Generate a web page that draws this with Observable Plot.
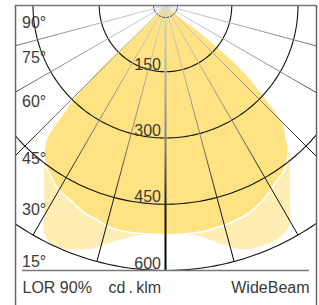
<!DOCTYPE html>
<html><head><meta charset="utf-8">
<script src="https://cdn.jsdelivr.net/npm/d3@7"></script>
<script src="https://cdn.jsdelivr.net/npm/@observablehq/plot@0.6"></script>
<style>
html,body{margin:0;padding:0;background:#fff;}
#chart svg{display:block;}
</style></head><body><div id="chart"></div>
<script>
// ---- data (angle from nadir in degrees, luminous intensity in cd/klm) ----
const darkLeftAngle  = [0, 5, 10, 14, 18, 21, 25, 30, 35, 38, 40, 42, 43.5, 45, 46, 46.5, 46.5, 46, 48, 60, 90];
const darkLeftCd     = [519, 519, 520, 518, 509, 505, 493, 482, 461, 445, 427, 400, 335, 285, 235, 180, 110, 55, 20, 8, 4];
const darkRightAngle = [0, 5, 9.5, 13, 17, 21, 26, 30, 32, 36, 41, 42, 45, 47, 50, 52, 52.5, 55, 60, 90];
const darkRightCd    = [519, 519, 519, 516, 513, 508, 495, 480, 472, 459, 424, 410, 376, 314, 229, 129, 40, 12, 6, 4];
const lightLeftAngle = [0, 6, 9.3, 13, 16.5, 19.8, 23.4, 25.8, 28.2, 29.2, 32, 36, 38, 40, 42, 43.5, 45, 46, 46.5, 46.5, 46, 48, 60, 90];
const lightLeftCd    = [519, 522, 533, 551, 573, 587, 598, 597, 584, 566, 519, 468, 445, 427, 400, 335, 285, 235, 180, 110, 55, 20, 8, 4];
const lightRightAngle = [0, 6.9, 10.8, 14.4, 17.7, 21.4, 25.5, 28.5, 30.2, 32.7, 37.1, 41, 42, 45, 47, 50, 52, 52.5, 55, 60, 90];
const lightRightCd    = [519, 523, 540, 563, 580, 586, 587, 577, 561, 522, 467, 424, 410, 376, 314, 229, 129, 40, 12, 6, 4];

const gridRadii = [150, 300, 450, 600];
const rayAngles = [-90, -75, -60, -45, -30, -15, 0, 15, 30, 45, 60, 75, 90];
const angleLabels = [90, 75, 60, 45, 30, 15];
const footerTexts = ["LOR 90%", "cd\u2009.\u2009klm", "WideBeam"];

// ---- layout ----
const W = 319, H = 305;
const k = 265 / 600;           // px per cd
const cx = 165, cy = 5;        // pixel position of the light centre
const mL = 15, mR = 3, mT = 5, mB = 35;
const xDomain = [(mL - cx) / k, (W - mR - cx) / k];
const yDomain = [0, (H - mB - mT) / k];
const angleLabelRow = [50, 131, 229, 358, 475, 593]; // label baselines (cd units down the frame)
const footerRow = 650;

const rad = a => a * Math.PI / 180;
function polar(angles, cds, sign) {
  return angles.map((a, i) => ({x: sign * cds[i] * Math.sin(rad(a)), y: cds[i] * Math.cos(rad(a))}));
}
function outline(la, lc, ra, rc) {
  return [...polar(la, lc, -1).reverse(), ...polar(ra, rc, 1).slice(1)];
}
const lightShape = outline(lightLeftAngle, lightLeftCd, lightRightAngle, lightRightCd);
const darkShape = outline(darkLeftAngle, darkLeftCd, darkRightAngle, darkRightCd);

const circlePts = gridRadii.flatMap(r => d3.range(-90, 90.5, 1).map(t => ({r, x: r * Math.sin(rad(t)), y: r * Math.cos(rad(t))})));
const srcR = 12 / k;
const srcPts = d3.range(-90, 90.5, 2).map(t => ({x: srcR * Math.sin(rad(t)), y: srcR * Math.cos(rad(t))}));
const rays = rayAngles.map(a => ({a, x2: 600 * Math.sin(rad(a)), y2: 600 * Math.cos(rad(a))}));

const font = "Liberation Sans, Arial, sans-serif";
const ink = "#3a3a3a";

const svg = Plot.plot({
  width: W, height: H,
  marginLeft: mL, marginRight: mR, marginTop: mT, marginBottom: mB,
  x: {domain: xDomain, axis: null},
  y: {domain: yDomain, reverse: true, axis: null},
  marks: [
    Plot.line(lightShape, {x: "x", y: "y", fill: "#FFEDB3", stroke: "none", curve: "catmull-rom", clip: true}),
    Plot.line(darkShape, {x: "x", y: "y", fill: "#FFE281", stroke: "#fff", strokeWidth: 1.6, curve: "catmull-rom", clip: true}),
    Plot.line(circlePts, {x: "x", y: "y", z: "r", stroke: "#111", strokeWidth: 1.1, clip: true}),
    Plot.link(rays, {x1: d => 0, y1: d => 0, x2: "x2", y2: "y2", stroke: "url(#rayGrad)", strokeWidth: d => d.a === 0 ? 2 : 1, clip: true}),
    Plot.line(srcPts, {x: "x", y: "y", stroke: "#222", strokeWidth: 1, strokeDasharray: "2,2"}),
    Plot.ruleX([xDomain[0], xDomain[1]], {y1: d => 0, y2: d => 720, stroke: "#666", strokeWidth: 1.5}),
    Plot.ruleY([0], {x1: d => xDomain[0], x2: d => xDomain[1], stroke: "#777", strokeWidth: 1.5}),
    Plot.ruleY([600], {x1: d => xDomain[0] + 7 / k, x2: d => xDomain[1] - 7 / k, stroke: "#777", strokeWidth: 1.5}),
    Plot.text(gridRadii, {x: d => 0, y: d => d, text: d => String(d), dx: -4.5, dy: -2, textAnchor: "end", lineAnchor: "bottom", fontSize: 16, fontFamily: font, fill: ink}),
    Plot.text(angleLabels, {x: d => xDomain[0], y: (d, i) => angleLabelRow[i], text: d => d + "°", dx: 6.5, textAnchor: "start", lineAnchor: "bottom", fontSize: 16, fontFamily: font, fill: ink}),
    Plot.text([footerTexts[0]], {x: d => xDomain[0], y: d => footerRow, text: d => d, dx: 7, textAnchor: "start", lineAnchor: "bottom", fontSize: 16, fontFamily: font, fill: ink}),
    Plot.text([footerTexts[1]], {x: d => -57 / k, y: d => footerRow, text: d => d, textAnchor: "start", lineAnchor: "bottom", fontSize: 16, fontFamily: font, fill: ink}),
    Plot.text([footerTexts[2]], {x: d => xDomain[1], y: d => footerRow, text: d => d, dx: -7, textAnchor: "end", lineAnchor: "bottom", fontSize: 16, fontFamily: font, fill: ink})
  ]
});

const px = svg.scale("x").apply(0), py = svg.scale("y").apply(0);
const ns = "http://www.w3.org/2000/svg";
const defs = document.createElementNS(ns, "defs");
defs.innerHTML = `<radialGradient id="rayGrad" gradientUnits="userSpaceOnUse" cx="${px}" cy="${py}" r="${600 * k}">
  <stop offset="0" stop-color="#d8d8d8"/>
  <stop offset="0.25" stop-color="#b4b4b4"/>
  <stop offset="0.55" stop-color="#7a7a7a"/>
  <stop offset="0.75" stop-color="#1a1a1a"/>
  <stop offset="1" stop-color="#000"/>
</radialGradient>`;
svg.insertBefore(defs, svg.firstChild);
document.getElementById("chart").appendChild(svg);
</script></body></html>
